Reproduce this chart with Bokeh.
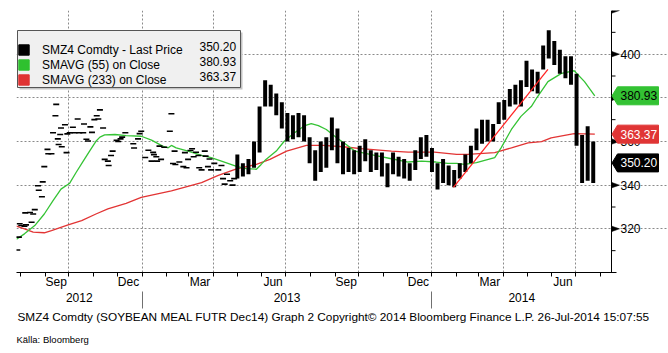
import pandas as pd
from bokeh.plotting import figure
from bokeh.models import (DatetimeAxis, FixedTicker, Range1d, Legend, LegendItem, Title)
from bokeh.core.properties import value
from bokeh.embed import file_html
from bokeh.resources import INLINE

FONT = "Liberation Sans"

# ---------------- data ----------------
early_dates = [
    "2012-07-28", "2012-07-30", "2012-07-31", "2012-08-02", "2012-08-06", "2012-08-07", "2012-08-08", "2012-08-13", "2012-08-15", "2012-08-17",
    "2012-08-19", "2012-08-23", "2012-08-24", "2012-08-28", "2012-08-29", "2012-08-31", "2012-09-04", "2012-09-05", "2012-09-09", "2012-09-11",
    "2012-09-14", "2012-09-15", "2012-09-17", "2012-09-18", "2012-09-20", "2012-09-21", "2012-09-22", "2012-09-26", "2012-09-28", "2012-09-29",
    "2012-10-02", "2012-10-06", "2012-10-08", "2012-10-12", "2012-10-14", "2012-10-19", "2012-10-20", "2012-10-23", "2012-10-25", "2012-10-28",
    "2012-10-30", "2012-11-02", "2012-11-05", "2012-11-07", "2012-11-09", "2012-11-13", "2012-11-15", "2012-11-19", "2012-11-20", "2012-11-23",
    "2012-11-25", "2012-11-30", "2012-12-02", "2012-12-05", "2012-12-07", "2012-12-11", "2012-12-21", "2012-12-22", "2012-12-27", "2012-12-29",
    "2012-12-31", "2013-01-05", "2013-01-09", "2013-01-13", "2013-01-15", "2013-01-16", "2013-01-19", "2013-01-20", "2013-01-23", "2013-01-25",
    "2013-01-29", "2013-02-05", "2013-02-07", "2013-02-09", "2013-02-11", "2013-02-12", "2013-02-17", "2013-02-22", "2013-02-24", "2013-02-26",
    "2013-02-28", "2013-03-03", "2013-03-05", "2013-03-07", "2013-03-10", "2013-03-13", "2013-03-14", "2013-03-17", "2013-03-21", "2013-03-22",
    "2013-03-25", "2013-03-27", "2013-03-29", "2013-04-02", "2013-04-07", "2013-04-11", "2013-04-13", "2013-04-15", "2013-04-18", "2013-04-22",
    "2013-04-25", "2013-04-27",
]
early_last = [
    310.3, 316.2, 322.3, 321.5, 321.2, 327.3, 321.8, 327.5, 323.0, 326.8,
    328.8, 339.7, 337.7, 334.7, 341.5, 348.5, 356.4, 354.4, 354.4, 364.0,
    371.8, 377.0, 361.2, 358.6, 363.2, 366.2, 357.6, 367.7, 354.9, 363.5,
    364.0, 366.5, 364.0, 370.3, 364.0, 364.0, 368.0, 361.0, 360.2, 366.7,
    364.2, 370.0, 371.8, 370.3, 374.5, 366.2, 351.8, 351.0, 349.0, 353.6,
    355.6, 360.6, 360.0, 361.2, 362.0, 364.0, 359.0, 357.0, 361.2, 363.6,
    364.7, 352.7, 356.0, 351.0, 355.0, 354.0, 353.0, 351.0, 357.9, 351.8,
    357.4, 364.7, 372.7, 349.9, 355.6, 349.5, 350.6, 348.5, 354.9, 348.0,
    351.8, 355.9, 356.7, 353.0, 355.1, 353.6, 348.0, 347.0, 355.6, 353.3,
    348.5, 352.0, 347.0, 350.0, 347.0, 349.0, 343.0, 340.5, 345.0, 342.0,
    340.0, 343.0,
]

week_first = "2013-05-01"
week_high = [354, 350, 352, 360, 376, 388, 386, 382, 378, 373,
             372, 373, 372, 362, 356, 360, 362, 371, 366, 360,
             357, 356, 358, 361, 356, 355, 355, 350, 355, 353,
             352, 350, 356, 362, 363, 357, 350, 352, 349, 347,
             350, 354, 358, 366, 370, 370, 368, 378, 379, 384,
             386, 388, 397, 393, 392, 404, 411, 406, 402, 399,
             399, 391, 363, 367, 360]
week_low = [343, 344, 345, 348, 355, 376, 376, 372, 366, 360,
            361, 362, 360, 350, 342, 346, 348, 356, 350, 345,
            346, 345, 346, 351, 346, 347, 344, 339, 345, 344,
            343, 342, 347, 352, 353, 346, 338, 341, 340, 339,
            343, 346, 350, 356, 359, 360, 360, 368, 370, 376,
            377, 376, 385, 383, 382, 393, 398, 395, 391, 389,
            386, 358, 341, 342, 341]

sma55_dates = ["2012-07-27", "2012-08-06", "2012-08-19", "2012-08-31", "2012-09-11", "2012-09-21", "2012-10-02", "2012-10-10", "2012-10-19", "2012-10-27",
               "2012-11-04", "2012-11-09", "2012-11-15", "2012-11-28", "2012-12-12", "2012-12-31", "2013-01-13", "2013-01-27", "2013-02-03", "2013-02-07",
               "2013-02-13", "2013-02-28", "2013-03-17", "2013-03-29", "2013-04-11", "2013-04-30", "2013-05-12", "2013-05-25", "2013-05-31", "2013-06-06",
               "2013-06-19", "2013-06-29", "2013-07-12", "2013-07-25", "2013-08-02", "2013-08-11", "2013-08-21", "2013-09-03", "2013-09-15", "2013-09-26",
               "2013-10-21", "2013-11-11", "2013-12-02", "2013-12-19", "2014-01-06", "2014-01-21", "2014-02-01", "2014-02-11", "2014-02-26", "2014-03-21",
               "2014-03-29", "2014-04-11", "2014-04-23", "2014-05-06", "2014-05-14", "2014-05-27", "2014-06-13", "2014-06-29", "2014-07-12", "2014-07-25"]
sma55_vals = [315.2, 317.7, 321.5, 326.8, 332.9, 338.2, 340.9, 345.8, 351.0, 355.6,
              360.1, 362.0, 363.0, 363.2, 362.7, 362.4, 360.6, 357.9, 357.1, 358.2,
              357.1, 355.6, 353.6, 352.6, 351.0, 348.6, 347.6, 347.3, 349.5, 351.8,
              355.6, 360.1, 364.0, 367.3, 368.2, 367.3, 365.5, 361.7, 358.6, 355.6,
              353.6, 352.1, 350.6, 351.0, 350.6, 350.0, 350.0, 349.5, 350.3, 352.6,
              357.1, 365.5, 371.5, 376.0, 380.6, 387.4, 391.2, 392.4, 387.4, 380.9]

sma233_dates = ["2012-07-27", "2012-08-06", "2012-08-17", "2012-08-31", "2012-09-09", "2012-09-30", "2012-10-17", "2012-11-04", "2012-11-19", "2012-12-12",
                "2012-12-31", "2013-02-07", "2013-03-17", "2013-04-07", "2013-04-30", "2013-05-25", "2013-06-11", "2013-07-02", "2013-07-27", "2013-08-17",
                "2013-09-11", "2013-10-04", "2013-11-11", "2013-12-02", "2014-01-04", "2014-02-01", "2014-02-15", "2014-03-21", "2014-04-11", "2014-05-02",
                "2014-05-19", "2014-05-31", "2014-06-29", "2014-07-25"]
sma233_vals = [321.2, 320.0, 318.5, 318.2, 319.2, 321.8, 323.8, 326.8, 329.1, 331.7,
               334.4, 337.4, 341.2, 344.5, 347.5, 349.5, 351.8, 355.6, 358.2, 358.2,
               357.6, 356.7, 355.6, 355.1, 355.1, 354.1, 354.1, 354.9, 357.1, 359.4,
               359.9, 361.7, 363.6, 363.4]

trend_dates = ["2014-01-28", "2014-05-27"]
trend_vals = [339.0, 393.0]

last_price = 350.20
sma55_last = 380.93
sma233_last = 363.37

legend_labels = ["SMZ4 Comdty - Last Price", "SMAVG (55) on Close", "SMAVG (233) on Close"]
legend_values = [last_price, sma55_last, sma233_last]

month_label_dates = ["2012-09-15", "2012-12-15", "2013-03-15", "2013-06-15",
                     "2013-09-15", "2013-12-15", "2014-03-15", "2014-06-15"]
month_labels = ["Sep", "Dec", "Mar", "Jun", "Sep", "Dec", "Mar", "Jun"]
year_labels = ["2012", "2013", "2014"]
year_bounds = ["2013-01-01", "2014-01-01"]
quarter_lines = ["2012-10-01", "2013-01-01", "2013-04-01", "2013-07-01",
                 "2013-10-01", "2014-01-01", "2014-04-01", "2014-07-01"]
y_major = [320, 340, 360, 380, 400, 420]
y_minor = [300, 310, 330, 350, 370, 390, 410]
y_labels = ["320", "340", "360", "380", "400"]

footer = ("SMZ4 Comdty (SOYBEAN MEAL FUTR Dec14) Graph 2  Copyright\u00a9 2014 "
          "Bloomberg Finance L.P.  26-Jul-2014 15:07:55")
source_note = "Källa: Bloomberg"

x_start, x_end = "2012-07-27", "2014-08-15"
Y0, Y1 = 300, 420

def ms(d):
    return int(pd.Timestamp(d).value // 10**6)

DAY = 86400000
NAN = float("nan")

# geometry: the data area runs from pixel 16 to 611; the frame continues to the
# canvas edge so the right-hand price scale and its value tags can be drawn
FL, FR, FT, FB = 16, 611, 10, 272
t0, t1 = ms(x_start), ms(x_end)
PX_X = (t1 - t0) / (FR - FL)      # ms per pixel
PX_Y = (Y1 - Y0) / (FB - FT)      # price units per pixel

def ax(px):
    return t0 + (px - FL) * PX_X

def ay(py):
    return Y0 + (FB - py) * PX_Y

p = figure(width=668, height=353, x_axis_type="datetime", y_axis_location=None,
           x_range=Range1d(t0, ax(668)), y_range=Range1d(Y0, Y1),
           toolbar_location=None, output_backend="svg",
           min_border_left=FL, min_border_right=0, min_border_top=FT, min_border_bottom=353 - FB)
p.outline_line_color = None
p.background_fill_color = "white"
p.border_fill_color = "white"

# grids
p.xgrid.ticker = FixedTicker(ticks=[ms(d) for d in quarter_lines])
p.ygrid.ticker = FixedTicker(ticks=y_major)
p.ygrid.bounds = (t0, ax(FR))
for g in (p.xgrid[0], p.ygrid[0]):
    g.grid_line_color = "#8a8a8a"
    g.grid_line_dash = "2 2"
    g.grid_line_width = 1

# x axis: month ticks + quarter month labels
xa = p.xaxis[0]
xa.bounds = (t0, ax(616))
xa.ticker = FixedTicker(ticks=[ms(d) for d in month_label_dates],
                        minor_ticks=[ms(d) for d in pd.date_range("2012-08-01", "2014-08-01", freq="MS")])
xa.major_label_overrides = {ms(d): t for d, t in zip(month_label_dates, month_labels)}
xa.major_tick_line_color = None
xa.major_tick_out = 0
xa.major_tick_in = 0
xa.minor_tick_line_color = "black"
xa.minor_tick_out = 4
xa.minor_tick_in = 0
xa.axis_line_color = "black"
xa.major_label_standoff = -2
xa.major_label_text_font = FONT
xa.major_label_text_font_size = "12px"
xa.major_label_text_color = "black"

# year axis with separators
edges = [t0] + [ms(d) for d in year_bounds] + [t1]
year_centers = [(edges[i] + edges[i + 1]) // 2 for i in range(len(year_labels))]
xb = DatetimeAxis(ticker=FixedTicker(ticks=year_centers, minor_ticks=[ms(d) for d in year_bounds]))
xb.major_label_overrides = {c: t for c, t in zip(year_centers, year_labels)}
xb.axis_line_color = None
xb.major_tick_line_color = None
xb.major_tick_out = 0
xb.major_tick_in = 0
xb.minor_tick_line_color = "#707070"
xb.minor_tick_out = 17
xb.minor_tick_in = 0
xb.major_label_standoff = -16
xb.major_label_text_font = FONT
xb.major_label_text_font_size = "12px"
xb.major_label_text_color = "black"
p.add_layout(xb, "below")

t_foot = Title(text=footer, align="left", text_font=FONT, text_font_size="11.8px",
               text_font_style="normal", text_color="black", offset=1, standoff=7)
t_src = Title(text=source_note, align="left", text_font=FONT, text_font_size="9.5px",
              text_font_style="normal", text_color="black", offset=0, standoff=8)
p.add_layout(t_foot, "below")
p.add_layout(t_src, "below")

# legend box: drawn first among the glyphs (covers the grid; no data lies here)
p.quad(left=[ax(19)], right=[ax(242)], top=[ay(32)], bottom=[ay(89)], fill_color="#c4c4c4",
       line_color=None)
p.quad(left=[ax(17)], right=[ax(240)], top=[ay(30)], bottom=[ay(87)], fill_color="#f0f0f0",
       line_color="#555555", line_width=1)

# ---------------- data marks ----------------
p.line(pd.to_datetime(sma233_dates), sma233_vals, line_color="#e23434", line_width=1.3)
p.line(pd.to_datetime(sma55_dates), sma55_vals, line_color="#35c335", line_width=1.3)
p.scatter(pd.to_datetime(early_dates), early_last, marker="dash", size=6,
          line_color="black", line_width=1.6)
week_dates = pd.date_range(week_first, periods=len(week_high), freq="7D")
p.vbar(x=week_dates, top=week_high, bottom=week_low, width=5 * DAY,
       fill_color="black", line_color=None)
p.line(pd.to_datetime(trend_dates), trend_vals, line_color="#ff2424", line_width=1.3)

# ---------------- right-hand price scale ----------------
p.segment(x0=[ax(FR)], x1=[ax(FR)], y0=[Y0], y1=[Y1], line_color="black", line_width=1)
p.segment(x0=[ax(FR)] * len(y_minor), x1=[ax(FR + 4)] * len(y_minor), y0=y_minor, y1=y_minor,
          line_color="black", line_width=1)
p.patches(xs=[[ax(FR + 0.5), ax(FR + 8), ax(FR + 0.5)] for _ in y_major],
          ys=[[v + 1.2, v, v - 1.2] for v in y_major], fill_color="black", line_color="black",
          line_width=0.5)
p.text(x=[ax(620)] * len(y_labels), y=[float(t) for t in y_labels], text=y_labels,
       text_font=value(FONT), text_font_size="12px", text_baseline="middle", text_color="black")

# value tags
tag_vals = [sma55_last, sma233_last, last_price]
tag_fill = ["#33c233", "#e03535", "black"]
tag_text = ["black", "white", "white"]
half = 9 * PX_Y
p.patches(xs=[[ax(FR + 0.5), ax(617), ax(658), ax(658), ax(617)] for _ in tag_vals],
          ys=[[v, v + half, v + half, v - half, v - half] for v in tag_vals],
          fill_color=tag_fill, line_color=tag_fill)
p.text(x=[ax(620)] * 3, y=tag_vals, text=[f"{v:.2f}" for v in tag_vals], text_color=tag_text,
       text_font=value(FONT), text_font_size="12px", text_baseline="middle")

# legend values
p.text(x=[ax(199)] * 3, y=[ay(45.5 + 15 * i) for i in range(3)],
       text=[f"{v:.2f}" for v in legend_values], text_font=value(FONT), text_font_size="12px",
       text_baseline="middle", text_color="black")

# ---------------- legend ----------------
leg_colors = ["black", "#2fc12f", "#e03333"]
leg_renderers = [p.quad(left=[NAN], right=[NAN], top=[NAN], bottom=[NAN], fill_color=c, line_color=c)
                 for c in leg_colors]
legend = Legend(items=[LegendItem(label=l, renderers=[r]) for l, r in zip(legend_labels, leg_renderers)],
                location=(1, 185), orientation="vertical",
                glyph_width=13, glyph_height=13, label_height=15, label_standoff=12,
                label_width=140, padding=6, spacing=0, margin=0,
                background_fill_alpha=0, border_line_color=None,
                label_text_font=FONT, label_text_font_size="12px", label_text_color="black")
p.add_layout(legend)

open("out.html", "w").write(file_html(p, INLINE))
